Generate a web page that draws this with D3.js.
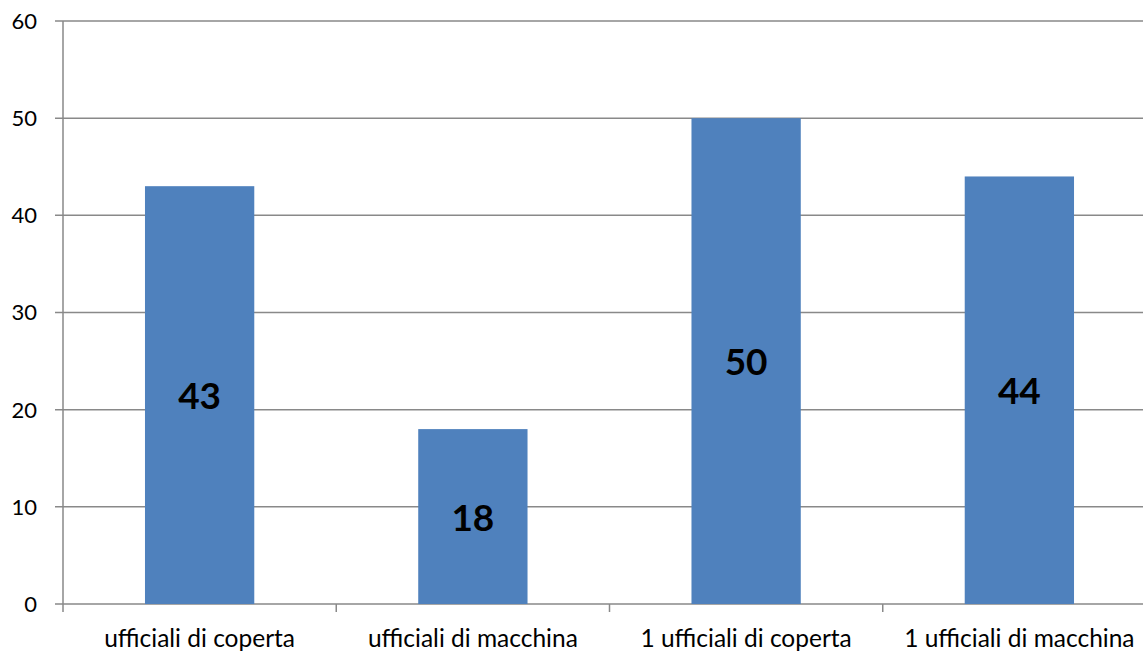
<!DOCTYPE html>
<html><head><meta charset="utf-8">
<script src="https://cdn.jsdelivr.net/npm/d3@7"></script>
<style>body{margin:0;background:#fff}svg{display:block}text{font-family:Lato,"Open Sans",sans-serif}</style>
</head><body>
<svg id="c" width="1143" height="653"></svg>
<script>
const categories = ["ufficiali di coperta","ufficiali di macchina","1 ufficiali di coperta","1 ufficiali di macchina"];
const values = [43, 18, 50, 44];
const yTicks = [0,10,20,30,40,50,60];

(function(){
const svg = d3.select("#c");
const pL = 63, pR = 1156, pT = 21, pB = 604;
const x = d3.scaleBand().domain(categories).range([pL, pR]).paddingInner(0.6).paddingOuter(0.3);
const y = d3.scaleLinear().domain([0,60]).range([pB, pT]);
const grid = "#898989";

svg.append("g").selectAll("line").data(yTicks).join("line")
  .attr("x1", 55).attr("x2", 1143)
  .attr("y1", d => y(d)).attr("y2", d => y(d))
  .attr("stroke", grid).attr("stroke-width", 1.5);

svg.append("line").attr("x1", pL).attr("x2", pL).attr("y1", pT).attr("y2", pB)
  .attr("stroke", grid).attr("stroke-width", 1.5);

const step = (pR - pL) / categories.length;
svg.append("g").selectAll("line").data(d3.range(categories.length + 1)).join("line")
  .attr("x1", i => pL + i * step).attr("x2", i => pL + i * step)
  .attr("y1", pB).attr("y2", pB + 8)
  .attr("stroke", grid).attr("stroke-width", 1.5);

svg.append("g").selectAll("text").data(yTicks).join("text")
  .attr("x", 37).attr("y", d => y(d)).attr("dy", "0.36em")
  .attr("text-anchor", "end").attr("font-size", 22).attr("fill", "#000")
  .text(d => d);

svg.append("g").selectAll("rect").data(values).join("rect")
  .attr("x", (d,i) => x(categories[i])).attr("width", x.bandwidth())
  .attr("y", d => y(d)).attr("height", d => y(0) - y(d))
  .attr("fill", "#4F81BD");

svg.append("g").selectAll("text").data(values).join("text")
  .attr("x", (d,i) => x(categories[i]) + x.bandwidth()/2)
  .attr("y", d => (y(d) + y(0))/2).attr("dy", "0.38em")
  .attr("text-anchor", "middle").attr("font-size", 37).attr("font-weight", "bold").attr("fill", "#000")
  .text(d => d);

svg.append("g").selectAll("text").data(categories).join("text")
  .attr("x", d => x(d) + x.bandwidth()/2).attr("y", 647)
  .attr("text-anchor", "middle").attr("font-size", 24.5).attr("fill", "#000")
  .text(d => d);
})();
</script>
</body></html>
